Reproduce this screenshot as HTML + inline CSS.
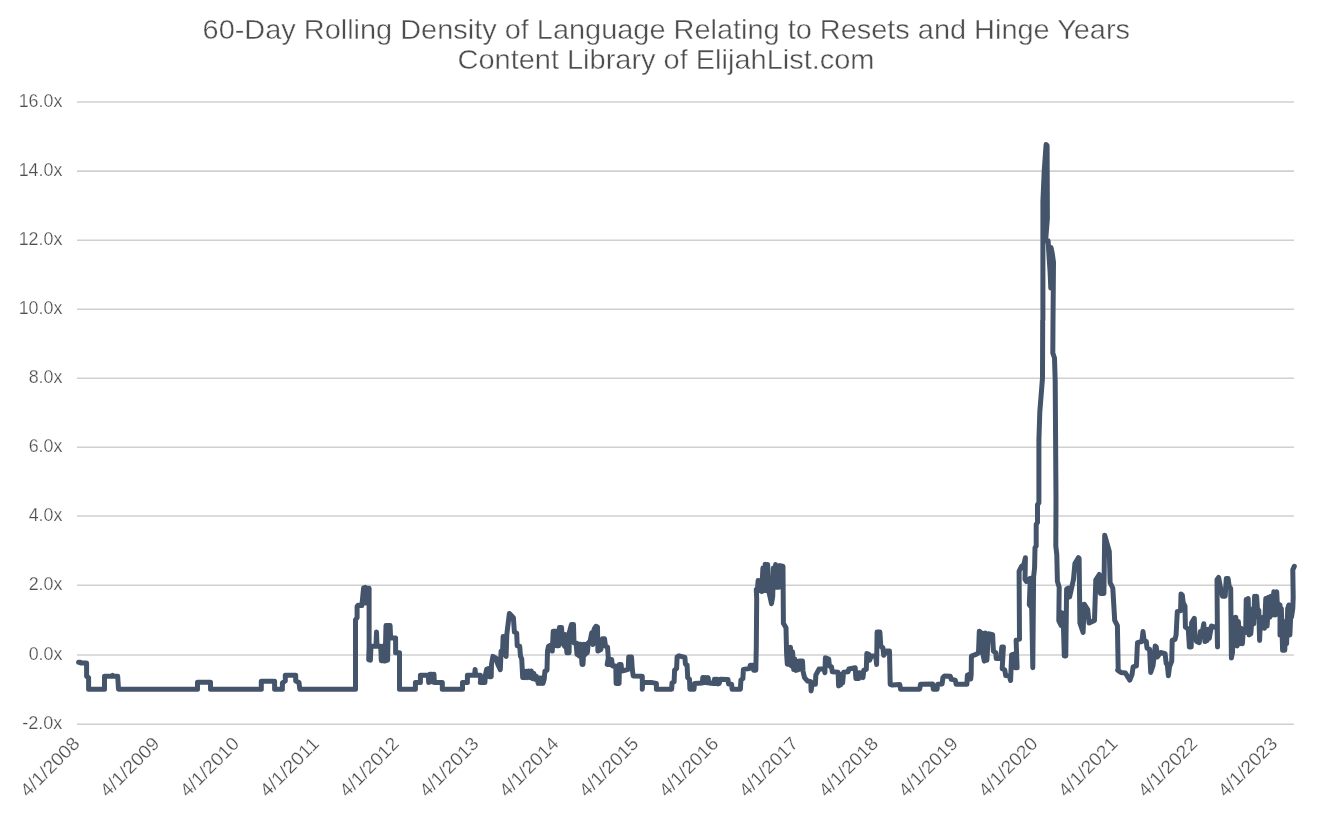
<!DOCTYPE html>
<html lang="en"><head><meta charset="utf-8"><title>60-Day Rolling Density of Language Relating to Resets and Hinge Years</title>
<style>html,body{margin:0;padding:0;background:#fff}svg{display:block;will-change:transform}text{font-family:"Liberation Sans",sans-serif;fill:#4d4d4d;stroke:#fff;stroke-width:.25px}.t text{stroke-width:.4px}</style></head><body>
<svg width="1331" height="815" viewBox="0 0 1331 815">
<rect width="1331" height="815" fill="#fff"/>
<g stroke="#D0D0D0" stroke-width="1.6">
<line x1="77" y1="102.0" x2="1294" y2="102.0"/>
<line x1="77" y1="171.1" x2="1294" y2="171.1"/>
<line x1="77" y1="240.2" x2="1294" y2="240.2"/>
<line x1="77" y1="309.2" x2="1294" y2="309.2"/>
<line x1="77" y1="378.2" x2="1294" y2="378.2"/>
<line x1="77" y1="447.2" x2="1294" y2="447.2"/>
<line x1="77" y1="516.0" x2="1294" y2="516.0"/>
<line x1="77" y1="585.2" x2="1294" y2="585.2"/>
<line x1="77" y1="655.0" x2="1294" y2="655.0"/>
<line x1="77" y1="724.2" x2="1294" y2="724.2"/>
</g>
<g font-size="18.5" text-anchor="end">
<text x="62.4" y="106.9" textLength="43.7" lengthAdjust="spacingAndGlyphs">16.0x</text>
<text x="62.4" y="176.0" textLength="43.7" lengthAdjust="spacingAndGlyphs">14.0x</text>
<text x="62.4" y="245.1" textLength="43.7" lengthAdjust="spacingAndGlyphs">12.0x</text>
<text x="62.4" y="314.1" textLength="43.7" lengthAdjust="spacingAndGlyphs">10.0x</text>
<text x="62.4" y="383.1" textLength="33.7" lengthAdjust="spacingAndGlyphs">8.0x</text>
<text x="62.4" y="452.1" textLength="33.7" lengthAdjust="spacingAndGlyphs">6.0x</text>
<text x="62.4" y="520.9" textLength="33.7" lengthAdjust="spacingAndGlyphs">4.0x</text>
<text x="62.4" y="590.1" textLength="33.7" lengthAdjust="spacingAndGlyphs">2.0x</text>
<text x="62.4" y="659.9" textLength="33.7" lengthAdjust="spacingAndGlyphs">0.0x</text>
<text x="62.4" y="729.1" textLength="40.2" lengthAdjust="spacingAndGlyphs">-2.0x</text>
</g>
<g font-size="18.5" text-anchor="end">
<text transform="translate(80.7 744.8) rotate(-45)" textLength="75" lengthAdjust="spacingAndGlyphs">4/1/2008</text>
<text transform="translate(160.6 744.8) rotate(-45)" textLength="75" lengthAdjust="spacingAndGlyphs">4/1/2009</text>
<text transform="translate(240.4 744.8) rotate(-45)" textLength="75" lengthAdjust="spacingAndGlyphs">4/1/2010</text>
<text transform="translate(320.2 744.8) rotate(-45)" textLength="75" lengthAdjust="spacingAndGlyphs">4/1/2011</text>
<text transform="translate(400.1 744.8) rotate(-45)" textLength="75" lengthAdjust="spacingAndGlyphs">4/1/2012</text>
<text transform="translate(479.9 744.8) rotate(-45)" textLength="75" lengthAdjust="spacingAndGlyphs">4/1/2013</text>
<text transform="translate(559.8 744.8) rotate(-45)" textLength="75" lengthAdjust="spacingAndGlyphs">4/1/2014</text>
<text transform="translate(639.6 744.8) rotate(-45)" textLength="75" lengthAdjust="spacingAndGlyphs">4/1/2015</text>
<text transform="translate(719.5 744.8) rotate(-45)" textLength="75" lengthAdjust="spacingAndGlyphs">4/1/2016</text>
<text transform="translate(799.4 744.8) rotate(-45)" textLength="75" lengthAdjust="spacingAndGlyphs">4/1/2017</text>
<text transform="translate(879.2 744.8) rotate(-45)" textLength="75" lengthAdjust="spacingAndGlyphs">4/1/2018</text>
<text transform="translate(959.0 744.8) rotate(-45)" textLength="75" lengthAdjust="spacingAndGlyphs">4/1/2019</text>
<text transform="translate(1038.9 744.8) rotate(-45)" textLength="75" lengthAdjust="spacingAndGlyphs">4/1/2020</text>
<text transform="translate(1118.8 744.8) rotate(-45)" textLength="75" lengthAdjust="spacingAndGlyphs">4/1/2021</text>
<text transform="translate(1198.6 744.8) rotate(-45)" textLength="75" lengthAdjust="spacingAndGlyphs">4/1/2022</text>
<text transform="translate(1278.5 744.8) rotate(-45)" textLength="75" lengthAdjust="spacingAndGlyphs">4/1/2023</text>
</g>
<g class="t" font-size="28.5" text-anchor="middle">
<text x="666.3" y="39.4" textLength="927.5" lengthAdjust="spacingAndGlyphs">60-Day Rolling Density of Language Relating to Resets and Hinge Years</text>
<text x="666" y="68.7" textLength="417" lengthAdjust="spacingAndGlyphs">Content Library of ElijahList.com</text>
</g>
<path d="M78.6 662.2 L80.4 662.2 L80.4 662.9 L86.6 663.1 L86.6 676.3 L88.6 677.6 L88.6 689.2 L104.5 689.2 L104.5 676.3 L111.9 676.3 L112.6 675.5 L113.2 676.3 L117.7 676.3 L118.5 689.2 L197.5 689.2 L197.5 682.3 L210.5 682.3 L210.5 689.2 L261.3 689.2 L261.3 681.3 L274.6 681.3 L274.6 689.2 L282.4 689.2 L282.4 682.9 L285.3 681.0 L285.3 675.2 L285.7 675.2 L295.7 675.2 L295.7 681.0 L299.0 682.6 L299.8 689.2 L355.5 689.2 L355.5 619.7 L357.1 617.7 L357.1 606.4 L358.1 605.3 L361.9 605.6 L363.6 587.9 L365.2 587.4 L365.7 603.1 L366.4 587.9 L369.1 588.2 L369.1 646.2 L368.7 659.7 L370.4 660.1 L371.0 646.2 L372.4 646.2 L376.0 646.2 L376.5 632.1 L377.0 646.2 L380.7 646.2 L381.3 660.7 L382.6 646.2 L384.0 661.1 L385.1 661.1 L386.0 625.5 L387.3 625.5 L387.6 660.2 L388.3 625.5 L390.1 625.5 L390.6 637.9 L395.6 637.9 L395.6 652.8 L399.5 652.8 L399.5 689.2 L415.4 689.2 L415.4 682.6 L420.4 682.6 L420.4 675.2 L428.2 675.2 L428.7 682.6 L429.8 674.3 L431.5 674.3 L432.0 681.8 L433.2 674.3 L434.0 674.3 L434.3 682.6 L442.3 682.6 L442.3 689.2 L462.5 689.2 L462.5 682.6 L467.4 682.6 L467.4 675.2 L474.6 675.2 L475.1 669.4 L475.6 675.2 L480.4 675.2 L480.7 682.6 L480.3 682.6 L484.9 682.6 L485.4 675.2 L486.6 669.4 L488.6 668.5 L489.5 676.8 L491.2 676.8 L491.5 664.4 L492.9 656.4 L496.2 658.1 L497.8 664.4 L500.3 669.7 L501.1 651.1 L502.6 650.3 L503.1 636.6 L504.1 654.4 L505.1 636.6 L506.1 656.4 L506.8 634.6 L507.4 629.6 L509.4 613.4 L513.4 617.7 L514.4 632.1 L516.7 633.2 L517.2 645.8 L519.7 646.2 L520.5 656.4 L521.7 658.6 L522.7 677.6 L523.8 671.3 L525.2 677.6 L526.3 671.3 L527.5 677.6 L528.6 671.0 L530.0 677.6 L531.3 671.0 L532.6 678.6 L533.9 673.5 L534.9 679.3 L536.3 676.3 L537.3 679.3 L538.2 683.4 L539.6 678.0 L540.7 683.4 L541.9 678.0 L543.0 683.4 L544.2 679.3 L544.9 671.3 L547.0 670.2 L547.5 651.1 L548.5 646.2 L551.5 644.8 L552.3 651.1 L553.2 631.3 L556.1 631.3 L556.6 645.8 L558.6 645.8 L559.4 627.6 L561.6 627.6 L562.3 642.9 L564.7 646.2 L565.4 634.6 L566.9 652.8 L569.1 652.8 L569.4 632.1 L571.4 624.6 L573.5 624.6 L574.0 642.9 L576.0 642.9 L577.0 654.4 L578.0 643.7 L579.3 656.1 L580.7 644.2 L582.0 664.4 L583.0 664.4 L584.0 644.2 L585.3 654.4 L586.3 644.2 L587.3 652.8 L588.3 642.9 L590.1 641.2 L591.7 632.9 L592.9 644.5 L594.2 628.8 L595.9 626.3 L597.5 627.1 L597.9 651.1 L600.9 649.5 L602.5 638.7 L604.5 638.7 L605.5 646.2 L607.5 647.0 L608.3 657.8 L607.2 664.4 L610.8 664.4 L611.6 659.4 L612.5 666.0 L615.8 666.0 L616.1 683.4 L619.1 683.4 L619.4 664.4 L621.1 664.4 L621.6 671.0 L624.9 670.2 L628.2 669.4 L628.7 656.9 L631.5 656.9 L632.3 669.4 L633.2 676.0 L642.3 676.3 L642.3 689.2 L642.6 682.6 L652.2 682.6 L656.4 683.4 L656.4 689.2 L671.3 689.2 L671.7 689.2 L672.0 682.9 L674.1 681.8 L674.6 670.2 L676.6 668.5 L677.1 656.9 L679.1 655.8 L684.9 657.4 L685.4 664.1 L687.1 665.2 L687.7 677.6 L689.5 679.3 L689.9 689.2 L694.0 689.2 L694.5 683.4 L702.3 682.9 L702.8 677.6 L704.1 677.6 L704.8 682.6 L705.8 677.6 L707.1 682.6 L708.1 677.6 L708.9 682.9 L713.9 683.4 L714.4 679.3 L715.6 679.3 L716.2 683.6 L717.2 679.3 L718.0 683.9 L719.2 683.4 L720.2 679.3 L728.0 679.6 L728.5 683.9 L731.6 684.3 L732.1 689.2 L740.4 689.2 L740.9 680.1 L742.9 678.5 L743.4 669.4 L749.5 668.5 L750.3 665.2 L752.8 665.2 L753.7 670.2 L755.8 670.2 L756.3 646.4 L756.7 598.4 L756.3 589.5 L757.6 587.7 L758.1 580.6 L759.4 590.4 L760.6 580.6 L761.7 591.6 L762.9 568.1 L764.2 590.4 L765.2 564.2 L766.5 590.4 L767.7 564.6 L768.8 591.6 L770.2 597.5 L771.5 603.7 L772.7 596.6 L773.4 568.1 L774.5 586.8 L775.6 564.6 L776.6 587.3 L777.7 566.4 L778.8 587.3 L779.8 565.5 L780.9 586.8 L782.0 566.0 L783.0 566.4 L783.4 623.3 L786.0 627.7 L786.6 653.5 L787.3 664.2 L788.4 650.0 L789.4 664.6 L790.5 647.3 L791.4 666.0 L792.6 651.8 L793.7 669.6 L794.8 658.9 L795.8 670.4 L798.5 669.6 L798.4 669.4 L799.2 661.1 L802.5 661.1 L803.0 671.0 L804.5 677.6 L807.5 681.0 L810.8 681.8 L811.1 690.9 L812.1 684.3 L815.4 684.3 L815.8 675.2 L819.1 669.0 L824.1 669.0 L824.9 672.7 L825.4 657.8 L828.7 659.1 L829.4 666.0 L831.5 666.9 L832.3 671.8 L838.1 672.3 L838.6 685.9 L839.6 674.3 L840.6 685.1 L841.6 674.3 L842.6 682.9 L843.6 672.3 L848.1 671.8 L848.9 669.0 L855.2 667.7 L855.9 678.5 L858.8 678.5 L859.2 672.7 L862.1 673.5 L863.0 677.6 L863.8 670.2 L866.3 669.4 L866.8 653.6 L868.8 654.4 L869.6 660.2 L871.3 656.1 L871.7 656.1 L875.8 656.1 L876.6 664.4 L877.1 632.1 L879.9 632.1 L880.8 646.2 L882.9 647.8 L883.7 655.3 L886.6 651.1 L889.5 651.1 L890.2 684.3 L892.4 685.1 L899.8 684.6 L900.6 689.2 L919.7 689.2 L920.5 684.3 L932.6 683.9 L933.3 689.2 L937.1 689.2 L937.6 684.3 L942.1 683.9 L942.9 677.6 L944.5 676.0 L950.3 676.3 L951.2 679.3 L955.3 680.1 L956.1 684.3 L966.9 684.3 L967.4 675.2 L968.4 674.7 L969.1 679.0 L969.9 674.7 L970.7 679.0 L971.2 674.3 L971.4 656.1 L976.0 654.4 L978.5 652.8 L979.3 631.3 L981.3 632.9 L982.3 651.1 L984.3 661.1 L985.1 632.9 L986.9 660.2 L988.4 633.7 L992.6 634.6 L993.4 651.1 L995.9 652.8 L996.2 658.6 L1000.9 658.6 L1000.8 658.9 L1001.8 647.1 L1003.4 647.1 L1002.2 668.7 L1004.7 669.7 L1005.7 675.6 L1009.3 676.0 L1010.6 680.5 L1011.6 654.9 L1014.6 653.9 L1015.1 667.7 L1017.1 667.7 L1016.1 640.2 L1019.5 639.2 L1019.1 571.4 L1021.4 566.5 L1023.8 564.6 L1025.4 557.7 L1025.0 579.3 L1026.3 581.3 L1030.3 578.3 L1029.3 604.8 L1031.7 607.8 L1032.8 667.7 L1033.6 577.1 L1034.6 567.5 L1035.0 547.8 L1036.2 545.9 L1036.2 524.3 L1037.5 522.4 L1037.5 504.7 L1038.9 502.7 L1038.9 440.0 L1039.8 412.0 L1042.5 378.0 L1042.7 320.0 L1042.9 320.0 L1042.9 201.0 L1044.2 171.5 L1046.1 144.5 L1047.1 145.5 L1047.4 218.2 L1045.6 240.7 L1048.1 240.7 L1049.1 257.4 L1050.1 272.1 L1050.8 288.1 L1051.0 247.6 L1052.3 253.7 L1053.5 262.3 L1053.0 320.0 L1052.8 353.0 L1054.5 358.0 L1055.2 381.0 L1056.0 500.0 L1055.8 545.9 L1056.8 554.7 L1057.4 581.3 L1059.2 587.2 L1058.8 620.6 L1061.1 625.5 L1061.9 612.7 L1063.1 615.6 L1064.3 655.9 L1065.8 655.9 L1066.6 589.1 L1068.6 588.1 L1069.6 597.0 L1070.9 591.1 L1073.5 579.3 L1074.9 563.6 L1078.4 557.7 L1079.1 558.3 L1079.9 623.0 L1083.1 632.5 L1084.2 604.2 L1087.7 609.6 L1089.1 623.0 L1094.5 620.4 L1095.8 579.9 L1099.3 574.5 L1100.4 593.4 L1103.9 593.4 L1104.7 535.3 L1107.4 544.8 L1109.3 551.5 L1110.1 582.6 L1112.8 588.0 L1114.7 620.4 L1117.4 625.7 L1118.2 668.9 L1117.6 670.2 L1120.9 672.4 L1125.3 672.9 L1126.4 674.6 L1129.8 680.2 L1132.0 674.6 L1133.1 666.9 L1136.4 665.8 L1137.5 642.6 L1141.9 641.5 L1143.0 631.6 L1144.1 640.4 L1146.3 641.5 L1147.0 648.1 L1149.6 649.2 L1150.7 672.4 L1153.0 665.8 L1154.1 657.0 L1155.2 645.9 L1156.3 647.0 L1157.4 657.0 L1159.6 653.6 L1160.7 652.5 L1165.1 653.6 L1166.2 663.6 L1167.3 664.7 L1168.4 675.7 L1169.5 666.9 L1171.7 661.4 L1172.2 640.4 L1175.0 639.3 L1176.1 634.9 L1177.3 611.7 L1180.6 610.6 L1181.0 594.0 L1182.3 595.1 L1183.2 602.8 L1185.0 606.1 L1185.4 627.1 L1188.3 629.3 L1189.4 647.0 L1191.2 647.0 L1191.6 622.7 L1194.3 618.3 L1194.9 634.9 L1196.5 641.5 L1199.3 642.6 L1200.4 631.6 L1202.2 632.7 L1203.8 623.8 L1204.9 641.5 L1207.1 640.4 L1208.2 629.3 L1209.3 638.2 L1211.5 626.0 L1214.8 627.1 L1217.0 626.0 L1217.5 647.0 L1217.0 579.6 L1218.6 577.4 L1220.3 586.3 L1222.5 596.2 L1225.2 596.2 L1226.3 578.5 L1228.1 578.5 L1229.2 586.3 L1230.7 588.5 L1231.4 658.1 L1232.5 652.5 L1233.6 618.3 L1234.7 643.7 L1235.8 617.2 L1237.1 645.9 L1238.4 621.6 L1239.8 643.7 L1241.1 628.2 L1242.4 643.7 L1243.3 630.4 L1245.7 629.3 L1246.2 599.5 L1247.1 632.7 L1248.2 598.4 L1249.0 634.9 L1250.8 633.8 L1252.1 617.2 L1253.2 608.4 L1253.7 623.8 L1254.6 596.2 L1255.7 617.2 L1256.6 596.2 L1257.4 608.4 L1258.8 610.6 L1259.6 640.4 L1260.5 617.2 L1261.9 628.2 L1263.2 617.2 L1264.5 628.2 L1265.8 598.4 L1267.2 626.0 L1268.5 597.3 L1269.8 617.2 L1271.1 596.2 L1272.5 615.0 L1273.8 591.8 L1275.1 615.0 L1276.7 591.8 L1277.8 613.9 L1278.9 606.1 L1280.0 605.0 L1280.0 634.9 L1281.3 608.4 L1282.2 637.1 L1282.6 650.3 L1283.7 623.8 L1284.8 650.3 L1285.5 621.6 L1286.6 643.7 L1287.7 608.4 L1288.8 605.0 L1289.9 634.9 L1291.0 608.4 L1291.5 617.2 L1292.8 608.4 L1293.2 597.3 L1292.8 569.7 L1294.3 566.4" fill="none" stroke="#44546A" stroke-width="5" stroke-linejoin="round" stroke-linecap="round"/>
</svg></body></html>
